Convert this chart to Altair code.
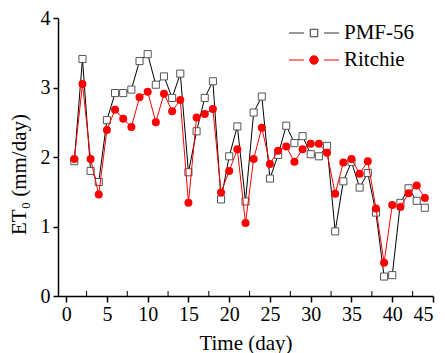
import altair as alt
import pandas as pd

days = list(range(1, 45))
pmf56 = [1.94, 3.41, 1.80, 1.64, 2.53, 2.92, 2.92, 2.97, 3.38, 3.48,
         3.04, 3.16, 2.85, 3.20, 1.78, 2.37, 2.85, 3.09, 1.39, 2.01,
         2.44, 1.36, 2.64, 2.87, 1.69, 2.03, 2.45, 2.20, 2.30, 2.04,
         2.01, 2.16, 0.93, 1.65, 1.93, 1.56, 1.77, 1.20, 0.28, 0.30,
         1.34, 1.55, 1.37, 1.27]
ritchie = [1.97, 3.05, 1.97, 1.46, 2.39, 2.68, 2.55, 2.43, 2.86, 2.94,
           2.50, 2.91, 2.66, 2.82, 1.34, 2.57, 2.62, 2.69, 1.49, 1.80,
           2.11, 1.05, 1.97, 2.42, 1.90, 2.09, 2.15, 1.93, 2.11, 2.19,
           2.19, 2.06, 1.47, 1.92, 1.97, 1.76, 1.94, 1.26, 0.48, 1.31,
           1.28, 1.48, 1.59, 1.41]
series_names = ["PMF-56", "Ritchie"]
x_major = [0, 5, 10, 15, 20, 25, 30, 35, 40, 45]
x_minor = [2.5, 7.5, 12.5, 17.5, 22.5, 27.5, 32.5, 37.5, 42.5]
y_ticks = [0, 0.5, 1, 1.5, 2, 2.5, 3, 3.5, 4]

df = pd.DataFrame({
    "day": days * 2,
    "et": pmf56 + ritchie,
    "series": [series_names[0]] * len(days) + [series_names[1]] * len(days),
})
minor_df = pd.DataFrame({"m": x_minor})

W, H = 375, 278
FONT = "Liberation Serif"

xscale = alt.Scale(domain=[-1, 45], nice=False, zero=False)
yscale = alt.Scale(domain=[0, 4], nice=False)

common_axis = dict(labelFont=FONT, titleFont=FONT, labelFontSize=20, titleFontSize=21,
                   titleFontWeight="normal", labelColor="black", titleColor="black",
                   domainColor="black", tickColor="black", domainWidth=1.5, tickWidth=1.5,
                   grid=False)

xenc = alt.X("day:Q", scale=xscale, title="Time (day)",
             axis=alt.Axis(values=x_major, tickSize=6, labelPadding=2, format="d",
                           titleY=53, titleBaseline="alphabetic", **common_axis))
yenc = alt.Y("et:Q", scale=yscale, title="ET₀ (mm/day)",
             axis=alt.Axis(values=y_ticks, tickSize=5,
                           labelExpr="datum.value % 1 === 0 ? format(datum.value, 'd') : ''",
                           labelPadding=3, titleX=-33, titleY=156,
                           titleBaseline="alphabetic", **common_axis))

sq_path = "M-2,0H-0.8M0.8,0H2M-0.3,-0.3H0.3V0.3H-0.3Z"
ci_path = "M-2,0H-0.8M0.8,0H2M0.34,0A0.34,0.34 0 1,1 -0.34,0A0.34,0.34 0 1,1 0.34,0Z"

lines = alt.Chart(df).transform_filter(alt.datum.series == "PMF-56").mark_line(
    color="black", strokeWidth=1).encode(x=xenc, y=yenc, order="day:Q")

pmf_pts = alt.Chart(df).transform_filter(alt.datum.series == "PMF-56").mark_point(
    shape="square", filled=True, fill="white", stroke="#555555", strokeWidth=1, size=50, opacity=1
).encode(x="day:Q", y="et:Q")

rit_line = alt.Chart(df).transform_filter(alt.datum.series == "Ritchie").mark_line(
    color="red", strokeWidth=1).encode(x="day:Q", y="et:Q", order="day:Q")

rit_pts = alt.Chart(df).transform_filter(alt.datum.series == "Ritchie").mark_point(
    shape="circle", filled=True, color="red", size=64, opacity=1
).encode(x="day:Q", y="et:Q")

leg = alt.Legend(title=None, orient="none", legendX=243, legendY=2,
                 symbolSize=625, symbolOpacity=1, labelOffset=17,
                 labelFont=FONT, labelFontSize=21, rowPadding=4,
                 symbolStrokeWidth=1, labelColor="black")

legend_layer = alt.Chart(df).mark_point(opacity=0, strokeWidth=1).encode(
    x="day:Q", y="et:Q",
    shape=alt.Shape("series:N", scale=alt.Scale(domain=series_names, range=[sq_path, ci_path]), legend=leg),
    fill=alt.Fill("series:N", scale=alt.Scale(domain=series_names, range=["white", "red"]), legend=leg),
    stroke=alt.Stroke("series:N", scale=alt.Scale(domain=series_names, range=["#333333", "red"]), legend=leg),
)

minor = alt.Chart(minor_df).mark_rule(color="black", strokeWidth=1).encode(
    x=alt.X("m:Q", scale=xscale),
    y=alt.value(H), y2=alt.value(H - 5),
)

chart = alt.layer(lines, pmf_pts, rit_line, rit_pts, legend_layer, minor).properties(
    width=W, height=H,
    autosize=alt.AutoSizeParams(type="none"),
    padding={"left": 50, "top": 10, "right": 4, "bottom": 57},
).configure_view(stroke=None)

chart.save("out.html", embed_options={"renderer": "svg", "actions": False})
